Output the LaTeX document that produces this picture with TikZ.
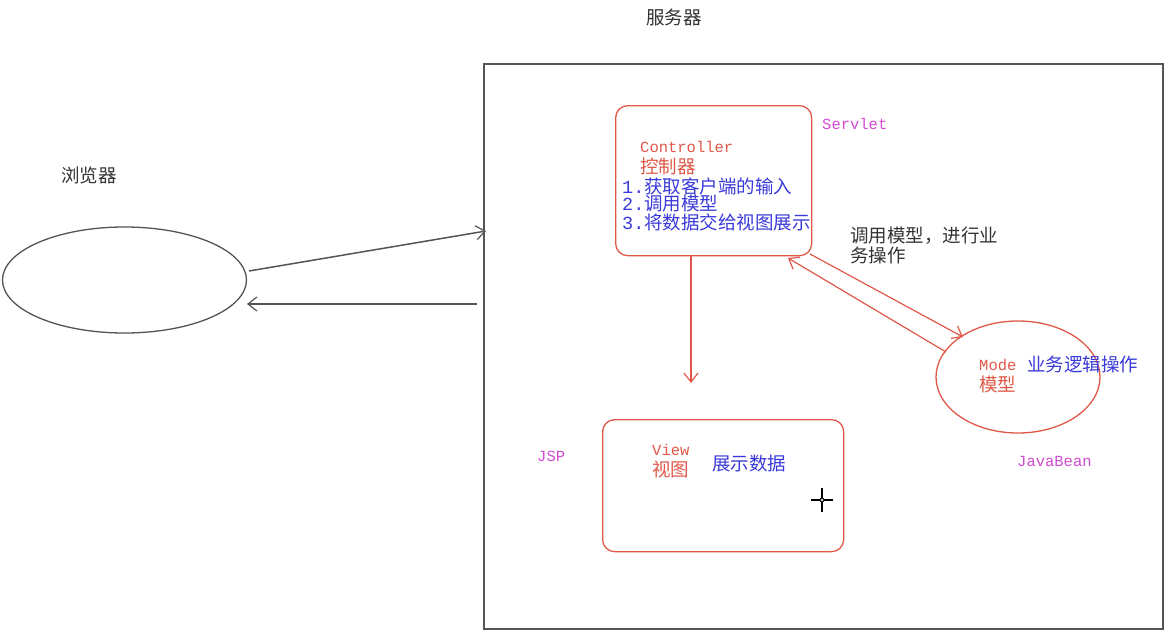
\documentclass[tikz,border=0pt]{standalone}
\usepackage{fontspec}
\setmainfont{Noto Sans CJK SC}
\setmonofont{Liberation Mono}
\usetikzlibrary{arrows.meta,shapes.geometric}
\definecolor{redc}{HTML}{E05848}
\definecolor{bluec}{HTML}{3A3ADB}
\definecolor{magc}{HTML}{D24BD2}
\definecolor{grayl}{HTML}{555555}
\definecolor{grayt}{HTML}{333333}
\tikzset{
  cjk/.style={inner sep=0pt, anchor=west, font=\fontsize{18.5}{18.5}\selectfont},
  mono/.style={inner sep=0pt, anchor=west, font=\ttfamily\fontsize{15.5}{15.5}\selectfont},
  redbox/.style={draw=redc, line width=1.3pt, rounded corners=12pt},
  barb/.style={-{Straight Barb[length=9pt,width=14pt,line width=1.2pt]}},
  grayline/.style={draw=grayl, line width=1.5pt},
  redline/.style={draw=redc, line width=1.2pt}
}
\begin{document}
\begin{tikzpicture}[x=1pt,y=-1pt]
\useasboundingbox[fill=white] (0,0) rectangle (1176,640);

% titles
\node[cjk, text=grayt] (ttlserver) at (646,17) {服务器};
\node[cjk, text=grayt] (ttlbrowser) at (61,175) {浏览器};

% server box
\node[draw=grayl, line width=1.5pt, minimum width=679pt, minimum height=565pt, anchor=north west, inner sep=0pt] (server) at (483,63) {};

% browser
\node[draw=grayl, line width=1.3pt, ellipse, minimum width=244pt, minimum height=106pt, inner sep=0pt] (browser) at (124.5,280) {};
\coordinate (bout) at (249,271);
\coordinate (sin) at (486,231);
\coordinate (sout) at (477,304);
\coordinate (bin) at (247,304);
\draw[grayline, barb] (bout) -- (sin);
\draw[grayline, barb] (sout) -- (bin);

% controller
\node[redbox, minimum width=196pt, minimum height=150pt, anchor=north west, inner sep=0pt] (ctrl) at (615,105) {};
\node[mono, text=redc] (ctrlen) at (640,147) {Controller};
\node[cjk, text=redc] (ctrlcn) at (640,166) {控制器};
\node[cjk, text=bluec] (c1) at (622,186) {\ttfamily 1.\rmfamily 获取客户端的输入};
\node[cjk, text=bluec] (c2) at (622,204) {\ttfamily 2.\rmfamily 调用模型};
\node[cjk, text=bluec] (c3) at (622,222) {\ttfamily 3.\rmfamily 将数据交给视图展示};
\node[mono, text=magc] (servlet) at (822,124) {Servlet};

% down arrow
\coordinate (downend) at (691,383);
\draw[redline, barb] (ctrl.south -| downend) -- (downend);

% call model text
\node[cjk, text=grayt] (call1) at (850,236) {调用模型，进行业};
\node[cjk, text=grayt] (call2) at (850,255) {务操作};

% model
\node[draw=redc, line width=1.3pt, ellipse, minimum width=164pt, minimum height=112pt, inner sep=0pt] (model) at (1018,377) {};
\node[mono, text=redc] (modeen) at (979,365) {Mode};
\node[cjk, text=redc] (modecn) at (979,384) {模型};
\node[cjk, text=bluec] (modedesc) at (1027,364) {业务逻辑操作};
\node[mono, text=magc] (javabean) at (1017,461) {JavaBean};

\coordinate (l1s) at (810,254);
\coordinate (l1e) at (963,337);
\coordinate (l2s) at (946,352);
\coordinate (l2e) at (788,258);
\draw[redline, barb] (l1s) -- (l1e);
\draw[redline, barb] (l2s) -- (l2e);

% view
\node[redbox, minimum width=241pt, minimum height=132pt, anchor=north west, inner sep=0pt] (view) at (602,419) {};
\node[mono, text=redc] (viewen) at (652,450) {View};
\node[cjk, text=redc] (viewcn) at (652,469) {视图};
\node[cjk, text=bluec] (viewdesc) at (712,463) {展示数据};
\node[mono, text=magc] (jsp) at (537,456) {JSP};

% cursor
\coordinate (cur) at (822,500);
\draw[black, line width=1.2pt] ([xshift=-11pt]cur) -- ([xshift=11pt]cur);
\draw[black, line width=1.2pt] ([yshift=-12pt]cur) -- ([yshift=12pt]cur);
\draw[black, fill=gray!40, line width=0.8pt] (cur) circle (2pt);
\end{tikzpicture}
\end{document}
